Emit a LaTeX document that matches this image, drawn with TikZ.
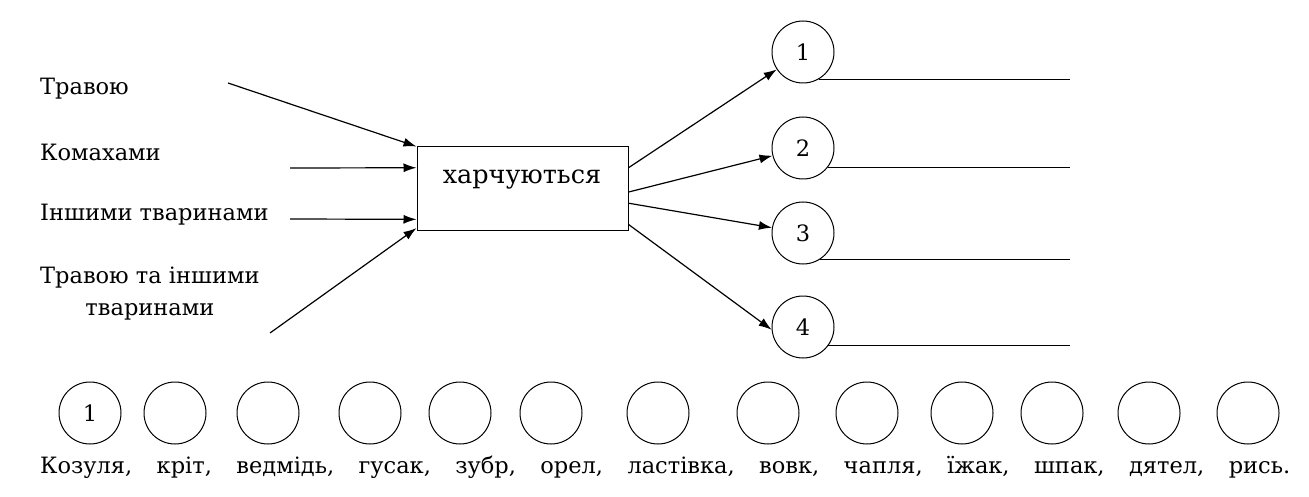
\documentclass[tikz,border=0pt]{standalone}
\usepackage{fontspec}
\newfontfamily\tnr{DejaVu Serif}
\usetikzlibrary{arrows.meta,calc}
\begin{document}
\begin{tikzpicture}[x=1pt,y=-1pt,
  lbl/.style={inner sep=0pt,font=\tnr\fontsize{22.5}{30}\selectfont},
  circ/.style={draw,circle,minimum size=62pt,inner sep=0pt,line width=1pt,font=\tnr\fontsize{22.5}{30}\selectfont},
  arr/.style={line width=1.2pt,-{Latex[length=13pt,width=9pt]}},
  ln/.style={line width=1.2pt}]
\useasboundingbox (0,0) rectangle (1309,497);
% input labels
\node[lbl,anchor=west] (t1) at (40,89) {Травою};
\node[lbl,anchor=west] (t2) at (40,152) {Комахами};
\node[lbl,anchor=west] (t3) at (40,215) {Іншими тваринами};
\node[lbl,align=center,anchor=west] (t4) at (40,294) {Травою та іншими\\[2pt]тваринами};
% box
\node[draw,line width=1pt,minimum width=211pt,minimum height=84pt,inner sep=0pt] (box) at (522.5,189) {};
\node[inner sep=0pt,font=\tnr\fontsize{25.5}{36}\selectfont] (boxt) at (522,180) {харчуються};
% input arrows
\coordinate (s1) at (228,83);
\coordinate (s2) at (290,168);
\coordinate (s3) at (290,219);
\coordinate (s4) at (270,333);
\draw[arr] (s1) -- (box.north west);
\draw[arr] (s2) -- ($(box.north west)!0.25!(box.south west)$);
\draw[arr] (s3) -- ($(box.north west)!0.857!(box.south west)$);
\draw[arr] (s4) -- ($(box.north west)!0.96!(box.south west)$);
% output circles
\node[circ] (c1) at (803,52) {1};
\node[circ] (c2) at (803,148) {2};
\node[circ] (c3) at (803,233) {3};
\node[circ] (c4) at (803,327) {4};
\draw[arr] ($(box.north east)!0.25!(box.south east)$) -- (c1);
\draw[arr] ($(box.north east)!0.536!(box.south east)$) -- (c2);
\draw[arr] ($(box.north east)!0.667!(box.south east)$) -- (c3);
\draw[arr] ($(box.north east)!0.917!(box.south east)$) -- (c4.185);
% answer lines
\coordinate (le) at (1070,0);
\draw[ln] (c1.-60) -- (c1.-60 -| le);
\draw[ln] (c2.-38) -- (c2.-38 -| le);
\draw[ln] (c3.-57) -- (c3.-57 -| le);
\draw[ln] (c4.-36) -- (c4.-36 -| le);
% bottom circles
\foreach \i/\x in {1/90,2/175,3/268,4/370,5/460,6/551,7/658,8/768,9/867,10/962,11/1052,12/1149,13/1248}{
  \node[circ] (b\i) at (\x,413) {};
}
\node[lbl] at (b1) {1};
\node[lbl,anchor=west] (words) at (40,467) {\makebox[1250pt][s]{Козуля, \ кріт, \ ведмідь, \ гусак, \ зубр, \ орел, \ ластівка, \ вовк, \ чапля, \ їжак, \ шпак, \ дятел, \ рись.}};
\end{tikzpicture}
\end{document}
